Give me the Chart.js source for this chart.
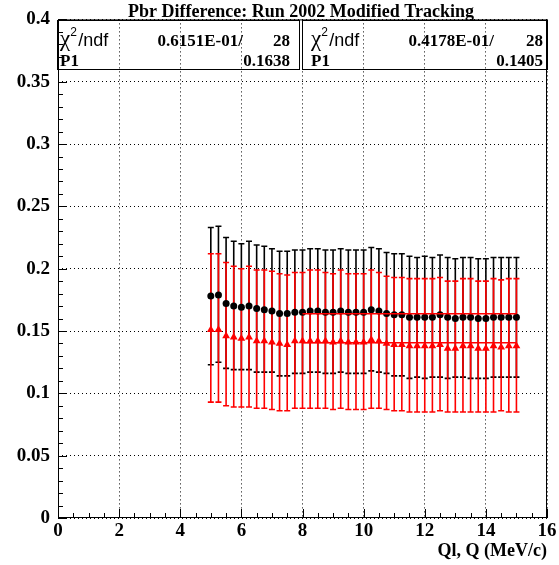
<!DOCTYPE html>
<html>
<head>
<meta charset="utf-8">
<script src="https://cdn.jsdelivr.net/npm/chart.js@4.4.0/dist/chart.umd.min.js"></script>
<style>
  html, body { margin: 0; padding: 0; background: #fff; }
  #wrap { width: 559px; height: 565px; }
</style>
</head>
<body>
<div id="wrap"><canvas id="c" width="559" height="565"></canvas></div>
<script>
// momentum bins (MeV/c)
const xVals = [5, 5.25, 5.5, 5.75, 6, 6.25, 6.5, 6.75, 7, 7.25, 7.5, 7.75, 8, 8.25, 8.5, 8.75, 9, 9.25, 9.5, 9.75,
               10, 10.25, 10.5, 10.75, 11, 11.25, 11.5, 11.75, 12, 12.25, 12.5, 12.75, 13, 13.25, 13.5, 13.75,
               14, 14.25, 14.5, 14.75, 15];

// black graph (circles)
const blackY  = [0.178, 0.179, 0.172, 0.170, 0.169, 0.170, 0.168, 0.167, 0.166, 0.164, 0.164, 0.165, 0.165, 0.166,
                 0.166, 0.165, 0.165, 0.166, 0.165, 0.165, 0.165, 0.167, 0.166, 0.164, 0.163, 0.163, 0.161, 0.161,
                 0.161, 0.161, 0.163, 0.161, 0.160, 0.161, 0.161, 0.160, 0.160, 0.161, 0.161, 0.161, 0.161];
const blackHi = [0.233, 0.234, 0.225, 0.222, 0.220, 0.222, 0.219, 0.218, 0.216, 0.214, 0.214, 0.215, 0.215, 0.216,
                 0.216, 0.215, 0.215, 0.216, 0.215, 0.215, 0.215, 0.217, 0.216, 0.213, 0.212, 0.212, 0.210, 0.209,
                 0.210, 0.209, 0.211, 0.209, 0.208, 0.209, 0.209, 0.208, 0.208, 0.209, 0.209, 0.209, 0.209];
const blackLo = [0.123, 0.125, 0.120, 0.119, 0.119, 0.119, 0.117, 0.117, 0.117, 0.114, 0.114, 0.116, 0.116, 0.117,
                 0.117, 0.116, 0.116, 0.117, 0.116, 0.116, 0.116, 0.118, 0.117, 0.116, 0.114, 0.114, 0.112, 0.113,
                 0.112, 0.113, 0.113, 0.112, 0.113, 0.113, 0.112, 0.112, 0.112, 0.113, 0.113, 0.113, 0.113];

// red graph (triangles)
const redY  = [0.151, 0.151, 0.146, 0.145, 0.144, 0.145, 0.142, 0.142, 0.141, 0.140, 0.139, 0.142, 0.142, 0.142,
               0.142, 0.142, 0.141, 0.142, 0.141, 0.141, 0.141, 0.143, 0.142, 0.140, 0.139, 0.139, 0.138, 0.138,
               0.138, 0.138, 0.139, 0.136, 0.136, 0.138, 0.138, 0.136, 0.136, 0.138, 0.137, 0.138, 0.138];
const redHi = [0.212, 0.212, 0.205, 0.202, 0.200, 0.202, 0.199, 0.199, 0.198, 0.196, 0.195, 0.197, 0.197, 0.199,
               0.199, 0.197, 0.196, 0.199, 0.196, 0.196, 0.196, 0.199, 0.197, 0.194, 0.193, 0.193, 0.192, 0.192,
               0.192, 0.192, 0.193, 0.190, 0.190, 0.192, 0.192, 0.190, 0.190, 0.192, 0.191, 0.192, 0.192];
const redLo = [0.093, 0.093, 0.090, 0.089, 0.089, 0.089, 0.088, 0.088, 0.087, 0.086, 0.086, 0.088, 0.088, 0.088,
               0.088, 0.088, 0.087, 0.088, 0.087, 0.087, 0.087, 0.088, 0.088, 0.087, 0.086, 0.086, 0.085, 0.085,
               0.085, 0.085, 0.086, 0.085, 0.085, 0.085, 0.085, 0.085, 0.085, 0.085, 0.086, 0.085, 0.085];

// constant fits (pol0) and their range
const fitRange = [8, 15];
const blackP1 = 0.1638;
const redP1 = 0.1405;

// stats box texts
const statsBlack = { chi: '0.6151E-01/', ndf: '28', p1: '0.1638' };
const statsRed   = { chi: '0.4178E-01/', ndf: '28', p1: '0.1405' };

const titleText = 'Pbr Difference: Run 2002 Modified Tracking';
const xTitle = 'Ql, Q (MeV/c)';

const serif = '"Liberation Serif", "Times New Roman", serif';
const sans = '"Liberation Sans", Arial, sans-serif';

const toPts = ys => xVals.map((x, i) => ({ x: x, y: ys[i] }));

// error bars, drawn under the markers
const errorBars = {
    id: 'errorBars',
    beforeDatasetsDraw(chart) {
        const ctx = chart.ctx, xs = chart.scales.x, ys = chart.scales.y;
        function bars(lo, hi, color) {
            ctx.save();
            ctx.strokeStyle = color;
            ctx.lineWidth = 1.6;
            xVals.forEach((x, i) => {
                const px = xs.getPixelForValue(x);
                const pLo = ys.getPixelForValue(lo[i]);
                const pHi = ys.getPixelForValue(hi[i]);
                ctx.beginPath();
                ctx.moveTo(px, pLo); ctx.lineTo(px, pHi);
                ctx.moveTo(px - 3, pLo); ctx.lineTo(px + 3, pLo);
                ctx.moveTo(px - 3, pHi); ctx.lineTo(px + 3, pHi);
                ctx.stroke();
            });
            ctx.restore();
        }
        bars(blackLo, blackHi, '#000');
        bars(redLo, redHi, '#ff0000');
    }
};

// frame, inner ticks, title, stats boxes
const frameAndText = {
    id: 'frameAndText',
    afterDraw(chart) {
        const ctx = chart.ctx, a = chart.chartArea;
        const xs = chart.scales.x, ys = chart.scales.y;
        ctx.save();
        ctx.strokeStyle = '#000';
        ctx.lineWidth = 1;
        ctx.strokeRect(a.left + 0.5, a.top + 0.5, a.right - a.left - 1, a.bottom - a.top - 1);

        // x ticks: major every 2, minor every 0.5
        ctx.beginPath();
        for (let v = 0; v <= 16.001; v += 0.5) {
            const px = Math.round(xs.getPixelForValue(v)) + 0.5;
            const len = (Math.abs(v / 2 - Math.round(v / 2)) < 1e-6) ? 9 : 5;
            ctx.moveTo(px, a.bottom); ctx.lineTo(px, a.bottom - len);
        }
        // y ticks: major every 0.05, minor every 0.01
        for (let k = 0; k <= 40; k++) {
            const py = Math.round(ys.getPixelForValue(k * 0.01)) + 0.5;
            const len = (k % 5 === 0) ? 9 : 5;
            ctx.moveTo(a.left, py); ctx.lineTo(a.left + len, py);
        }
        ctx.stroke();

        // title
        ctx.fillStyle = '#000';
        ctx.font = 'bold 18px ' + serif;
        ctx.textAlign = 'center';
        ctx.textBaseline = 'alphabetic';
        ctx.fillText(titleText, 301, 17);

        // x axis title
        ctx.textAlign = 'right';
        ctx.fillText(xTitle, 547, 556);

        // stats boxes (transparent)
        function box(x0, x1, tx, chiR, ndfR, s) {
            ctx.strokeRect(x0 + 0.5, 20.5, x1 - x0, 49);
            ctx.textAlign = 'left';
            ctx.font = '23px ' + serif;
            ctx.fillText('\u03C7', tx, 46);
            const wChi = ctx.measureText('\u03C7').width;
            ctx.font = '12px ' + sans;
            ctx.fillText('2', tx + wChi, 36);
            ctx.font = '18px ' + sans;
            ctx.fillText('/ndf', tx + wChi + 8, 46);
            ctx.font = 'bold 17px ' + serif;
            ctx.fillText('P1', tx, 66);
            ctx.textAlign = 'right';
            ctx.fillText(s.chi, chiR, 46);
            ctx.fillText(s.ndf, ndfR, 46);
            ctx.fillText(s.p1, ndfR, 66);
        }
        box(57, 299, 60, 243, 290, statsBlack);
        box(302, 547, 311, 494, 543, statsRed);
        ctx.restore();
    }
};

new Chart(document.getElementById('c'), {
    type: 'scatter',
    data: {
        datasets: [
            {
                label: 'fit black',
                data: [{ x: fitRange[0], y: blackP1 }, { x: fitRange[1], y: blackP1 }],
                showLine: true, borderColor: '#ff0000', borderWidth: 1.5, pointRadius: 0, order: 0
            },
            {
                label: 'fit red',
                data: [{ x: fitRange[0], y: redP1 }, { x: fitRange[1], y: redP1 }],
                showLine: true, borderColor: '#ff0000', borderWidth: 1.5, pointRadius: 0, order: 1
            },
            {
                label: 'black',
                data: toPts(blackY),
                pointStyle: 'circle', pointRadius: 3.5,
                backgroundColor: '#000', borderColor: '#000', borderWidth: 0, order: 2
            },
            {
                label: 'red',
                data: toPts(redY),
                pointStyle: 'triangle', pointRadius: 4.5,
                backgroundColor: '#ff0000', borderColor: '#ff0000', borderWidth: 0, order: 3
            }
        ]
    },
    options: {
        responsive: false,
        animation: false,
        events: [],
        layout: { padding: { top: 18, right: 12, left: 0, bottom: 0 } },
        plugins: { legend: { display: false }, tooltip: { enabled: false } },
        scales: {
            x: {
                type: 'linear', min: 0, max: 16,
                afterFit: s => { s.height = 47; },
                ticks: {
                    stepSize: 2, padding: 2, color: '#000', maxRotation: 0,
                    font: { family: serif, size: 19, weight: 'bold' }
                },
                grid: { color: '#000', lineWidth: 1, drawTicks: false },
                border: { display: false, dash: [1, 3] }
            },
            y: {
                type: 'linear', min: 0, max: 0.4,
                afterFit: s => { s.width = 58; },
                ticks: {
                    stepSize: 0.05, padding: 8, color: '#000',
                    font: { family: serif, size: 19, weight: 'bold' },
                    callback: v => String(+v.toFixed(2))
                },
                grid: { color: '#000', lineWidth: 1, drawTicks: false },
                border: { display: false, dash: [1, 3] }
            }
        }
    },
    plugins: [errorBars, frameAndText]
});
</script>
</body>
</html>
